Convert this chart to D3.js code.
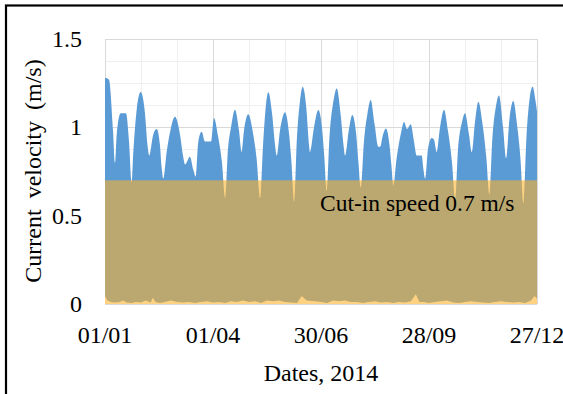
<!DOCTYPE html>
<html>
<head>
<meta charset="utf-8">
<script src="https://cdn.jsdelivr.net/npm/d3@7"></script>
<style>
  body { margin: 0; background: #fff; }
  svg { display: block; }
  text { font-family: "Liberation Serif", "Times New Roman", serif; fill: #000; }
</style>
</head>
<body>
<div id="graph1"></div>
<script>
// envelope of the current velocity, [day of 2014, m/s]
const envelope = [
  [0,1.28],[3.3,1.27],[6.7,0.98],[8.3,0.80],[9.75,0.96],[13.1,1.08],[17.5,1.08],[20,0.92],[22.25,0.69],
  [23.6,0.86],[26.4,1.10],[29.75,1.20],[33.3,1.08],[35.4,0.90],[36.9,0.84],[40.25,0.96],[43.1,0.99],[45.8,0.90],[47.25,0.77],[48.6,0.71],
  [51.4,0.86],[54.75,0.99],[58.3,1.06],[62.5,0.96],[65,0.84],[66.7,0.79],[70.8,0.834],[73.6,0.76],[75.6,0.72],
  [77.75,0.92],[80.6,0.975],[83.3,0.92],[88.3,0.92],[90.8,1.053],[94.2,0.95],[97.5,0.80],[100,0.60],
  [102.5,0.88],[105,1.0],[108.3,1.10],[111.7,0.98],[113.9,0.86],[115.8,0.98],[119.4,1.074],[123.3,0.97],[126.4,0.82],[129.2,0.60],
  [131.7,0.9],[133.75,1.10],[136.1,1.198],[139.2,1.08],[141.7,0.90],[143.1,0.84],[145.8,0.98],[150,1.085],[153.3,0.97],[155.4,0.80],[157.5,0.58],
  [160,0.95],[162.5,1.15],[164.75,1.23],[167.9,1.1],[170,0.90],[170.8,0.86],[174.2,1.0],[177.75,1.098],[180.8,1.0],[182.9,0.82],[184.75,0.64],
  [187.1,0.95],[190.4,1.15],[193.1,1.22],[196.25,1.08],[198.75,0.9],[200,0.84],[203.3,0.99],[206.1,1.07],[209.2,0.97],[211.25,0.8],[213.1,0.66],
  [215.8,0.92],[218.75,1.08],[221.4,1.155],[224.6,1.02],[227.75,0.89],[229.2,0.89],[231.7,0.96],[234.2,0.994],[237.1,0.9],[238.75,0.78],[240.25,0.67],
  [242.9,0.82],[246.7,0.97],[249.2,1.03],[251.7,0.99],[254.75,1.017],[257.5,0.92],[259.75,0.84],[263.9,0.84],[265.4,0.76],[266.7,0.71],
  [269.2,0.88],[272.25,0.94],[274.2,0.93],[276.4,0.86],[279.2,1.0],[282.5,1.10],[285.8,0.98],[289.2,0.8],[291.7,0.59],
  [294.2,0.88],[297.5,1.03],[300,1.08],[303.3,0.96],[305.6,0.86],[308.3,1.03],[311.1,1.145],[314.6,1.02],[317.9,0.82],[320.25,0.62],
  [322.9,0.95],[325.8,1.12],[328.3,1.18],[331.7,1.0],[334.2,0.825],[337.1,1.05],[340.25,1.149],[343.3,1.02],[346.25,0.82],[348.6,0.57],
  [351.25,0.95],[354.2,1.18],[356.4,1.23],[358.75,1.15],[360,1.09]
];

// slack water floor near zero (the light strip at the bottom)
const slackFloor = [
  [0,0.045],[2,0.02],[5,0.012],[8,0.008],[12,0.012],[15,0.02],[18,0.008],[22,0.005],[26,0.012],[30,0.008],
  [34,0.02],[38,0.008],[40,0.035],[42,0.012],[46,0.005],[50,0.012],[55,0.02],[60,0.012],[65,0.008],[70,0.012],
  [75,0.005],[80,0.012],[85,0.016],[90,0.008],[95,0.012],[100,0.005],[105,0.016],[110,0.012],[115,0.02],[120,0.012],
  [125,0.016],[130,0.005],[135,0.02],[140,0.016],[145,0.02],[150,0.012],[155,0.008],[160,0.005],[164,0.045],[168,0.02],
  [175,0.016],[180,0.012],[185,0.005],[190,0.02],[195,0.016],[200,0.02],[205,0.012],[210,0.012],[215,0.005],[220,0.012],
  [225,0.016],[230,0.008],[235,0.012],[240,0.005],[245,0.012],[250,0.008],[255,0.016],[259,0.055],[262,0.012],[265,0.012],
  [270,0.005],[275,0.012],[280,0.016],[285,0.02],[290,0.008],[295,0.005],[300,0.012],[305,0.016],[310,0.012],[315,0.008],
  [320,0.005],[325,0.012],[330,0.016],[335,0.012],[340,0.008],[345,0.012],[350,0.005],[355,0.02],[358,0.045],[360,0.03]
];

const cutIn = 0.7;
const xTicks = [0, 90, 180, 270, 360];
const xTickLabels = ["01/01", "01/04", "30/06", "28/09", "27/12"];
const yTicks = [0, 0.5, 1, 1.5];

const width = 563, height = 394;
const margin = {left: 105, right: 26, top: 39, bottom: 90};

let svg = d3.select("#graph1")
    .append("svg")
    .attr("width", width)
    .attr("height", height);

svg.append("rect")
    .attr("width", width).attr("height", height)
    .attr("fill", "#fff");

let x = d3.scaleLinear()
    .domain([0, 360])
    .range([margin.left, width - margin.right]);

let y = d3.scaleLinear()
    .domain([0, 1.5])
    .range([height - margin.bottom, margin.top]);

// gridlines: minor first, then major on top
let grid = svg.append("g");
grid.selectAll(".vmin").data(d3.range(0, 361, 30)).enter()
    .append("line")
    .attr("x1", d => Math.round(x(d)) + 0.5).attr("x2", d => Math.round(x(d)) + 0.5)
    .attr("y1", y(0)).attr("y2", y(1.5))
    .attr("stroke", "#efefef");
grid.selectAll(".hmin").data(d3.range(0, 1.5001, 0.125)).enter()
    .append("line")
    .attr("x1", x(0)).attr("x2", x(360))
    .attr("y1", d => Math.round(y(d)) + 0.5).attr("y2", d => Math.round(y(d)) + 0.5)
    .attr("stroke", "#efefef");
grid.selectAll(".vmaj").data(xTicks).enter()
    .append("line")
    .attr("x1", d => Math.round(x(d)) + 0.5).attr("x2", d => Math.round(x(d)) + 0.5)
    .attr("y1", y(0)).attr("y2", y(1.5))
    .attr("stroke", "#d9d9d9");
grid.selectAll(".hmaj").data(yTicks).enter()
    .append("line")
    .attr("x1", x(0)).attr("x2", x(360))
    .attr("y1", d => Math.round(y(d)) + 0.5).attr("y2", d => Math.round(y(d)) + 0.5)
    .attr("stroke", "#d9d9d9");

// blue velocity area
let area = d3.area()
    .x(d => x(d[0]))
    .y0(y(0))
    .y1(d => y(d[1]))
    .curve(d3.curveMonotoneX);

svg.append("path")
    .datum(envelope)
    .attr("d", area)
    .attr("fill", "#5b9bd5");

// slack water gaps near zero
svg.append("path")
    .datum(slackFloor)
    .attr("d", d3.area().x(d => x(d[0])).y0(y(0)).y1(d => y(d[1])))
    .attr("fill", "#fff");

// cut-in band, semi transparent orange
svg.append("rect")
    .attr("x", x(0))
    .attr("y", y(cutIn))
    .attr("width", x(360) - x(0))
    .attr("height", y(0) - y(cutIn))
    .attr("fill", "rgb(255,177,40)")
    .attr("fill-opacity", 0.58);

svg.append("text")
    .attr("x", 320)
    .attr("y", 211)
    .style("font-size", "23.5px")
    .text("Cut-in speed 0.7 m/s");

// axis labels
svg.selectAll(".ylab").data(yTicks).enter()
    .append("text")
    .attr("x", 82)
    .attr("y", d => y(d))
    .attr("dy", "0.34em")
    .style("text-anchor", "end")
    .style("font-size", "24px")
    .text(d => d);

svg.selectAll(".xlab").data(xTicks).enter()
    .append("text")
    .attr("x", d => x(d))
    .attr("y", 343)
    .style("text-anchor", "middle")
    .style("font-size", "24px")
    .text((d, i) => xTickLabels[i]);

svg.append("text")
    .attr("x", 321)
    .attr("y", 381)
    .style("text-anchor", "middle")
    .style("font-size", "24px")
    .text("Dates, 2014");

svg.append("text")
    .attr("transform", "translate(41,171) rotate(-90)")
    .style("text-anchor", "middle")
    .style("font-size", "24px")
    .style("word-spacing", "5px")
    .text("Current velocity (m/s)");

// outer frame (right and bottom edges fall outside the picture)
svg.append("rect")
    .attr("x", 6).attr("y", 5.5)
    .attr("width", 700).attr("height", 500)
    .attr("fill", "none")
    .attr("stroke", "#000")
    .attr("stroke-width", 2.2);
</script>
</body>
</html>
